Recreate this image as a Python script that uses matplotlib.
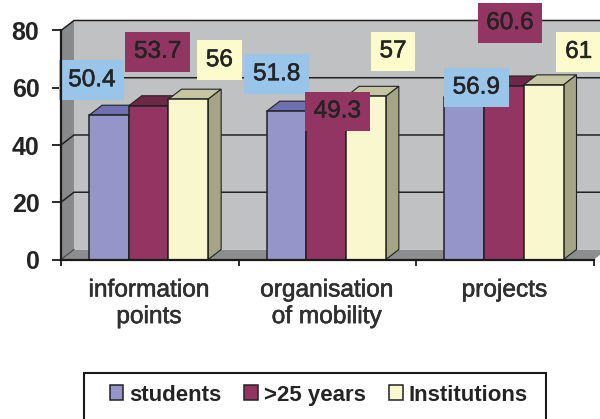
import matplotlib.pyplot as plt
import matplotlib.patheffects as pe
from matplotlib.patches import Polygon, Rectangle

categories = ['information\npoints', 'organisation\nof mobility', 'projects']
series_names = ['students', '>25 years', 'Institutions']
students = [50.4, 51.8, 56.9]
over_25 = [53.7, 49.3, 60.6]
institutions = [56, 57, 61]
y_ticks = [0, 20, 40, 60, 80]

front_colors = ['#9595CA', '#933562', '#F9F7CD']
top_colors = ['#6F6FB2', '#6E2748', '#C5C5A2']
side_colors = ['#6F6F98', '#6E2748', '#A5A586']
label_colors = ['#9AC5EA', '#933562', '#FCFBCC']

# labels were dragged by hand in the original, offsets in pixels from the bar top
label_offsets = [[(-17, 35), (-10, 37), (12, 9)],
                 [(9, 54), (11, 7), (6, 63)],
                 [(31, 39), (27, 45), (35, 33)]]

plt.rcParams['font.family'] = ['Liberation Sans', 'DejaVu Sans']
TEXT = '#242424'
DEPTH_X = 0.073
DEPTH_Y = 3.5
BAR_W = 0.2235
GROUP_START = 0.158
heavier = [pe.withStroke(linewidth=0.4, foreground=TEXT)]

fig = plt.figure(figsize=(6, 4.19), dpi=100)
ax = fig.add_axes([61 / 600, 1 - 259.5 / 419, 533 / 600, 229 / 419])
ax.set_xlim(0, 3)
ax.set_ylim(0, 80)
for s in ['top', 'right']:
    ax.spines[s].set_visible(False)
for s in ['left', 'bottom']:
    ax.spines[s].set_linewidth(1.6)
    ax.spines[s].set_color('#1a1a1a')
    ax.spines[s].set_zorder(8)
ax.patch.set_visible(False)

# walls and floor
ax.add_patch(Polygon([(DEPTH_X, DEPTH_Y), (3 + DEPTH_X, DEPTH_Y), (3 + DEPTH_X, 80 + DEPTH_Y), (DEPTH_X, 80 + DEPTH_Y)],
                     fc='#C0C1C3', ec='none', clip_on=False, zorder=1))
ax.add_patch(Polygon([(0, 0), (DEPTH_X, DEPTH_Y), (DEPTH_X, 80 + DEPTH_Y), (0, 80)],
                     fc='#88898B', ec='none', clip_on=False, zorder=1))
ax.add_patch(Polygon([(0, 0), (3, 0), (3 + DEPTH_X, DEPTH_Y), (DEPTH_X, DEPTH_Y)],
                     fc='#8C8D8F', ec='none', clip_on=False, zorder=1))

for y in y_ticks[1:]:
    ax.plot([0, DEPTH_X, 3 + DEPTH_X], [y, y + DEPTH_Y, y + DEPTH_Y], color='#222222', lw=1.1,
            clip_on=False, zorder=2)
ax.plot([0, DEPTH_X], [0, DEPTH_Y], color='#444444', lw=0.8, clip_on=False, zorder=2)

# bars, left to right so the later ones cover the sides
values = [students, over_25, institutions]
z = 3
for c in range(len(categories)):
    for i, vals in enumerate(values):
        left = c + GROUP_START + i * BAR_W
        v = vals[c]
        ax.add_patch(Polygon([(left, v), (left + BAR_W, v), (left + BAR_W + DEPTH_X, v + DEPTH_Y),
                              (left + DEPTH_X, v + DEPTH_Y)], fc=top_colors[i], ec='#222222', lw=0.8,
                             clip_on=False, zorder=z))
        ax.add_patch(Polygon([(left + BAR_W, 0), (left + BAR_W + DEPTH_X, DEPTH_Y),
                              (left + BAR_W + DEPTH_X, v + DEPTH_Y), (left + BAR_W, v)], fc=side_colors[i],
                             ec='#222222', lw=0.8, clip_on=False, zorder=z))
        ax.bar(left, v, BAR_W, align='edge', color=front_colors[i], edgecolor='#222222', linewidth=1.1,
               label=series_names[i] if c == 0 else None, zorder=z + 0.5)
        z += 0.01

# data labels
for c in range(len(categories)):
    for i, vals in enumerate(values):
        left = c + GROUP_START + i * BAR_W
        ax.annotate(f'{vals[c]:g}', xy=(left + BAR_W / 2, vals[c]), xytext=label_offsets[i][c],
                    textcoords='offset pixels', ha='center', va='center', fontsize=17.5, color=TEXT,
                    annotation_clip=False, zorder=7, path_effects=heavier,
                    bbox=dict(boxstyle='square,pad=0.36', fc=label_colors[i], ec='none'))

ax.set_yticks(y_ticks)
ax.set_xticks([0, 1, 2, 3])
ax.set_xticklabels([])
ax.tick_params(axis='y', length=6.5, width=1.3, pad=9, labelsize=18, color='#1a1a1a', labelcolor=TEXT)
ax.tick_params(axis='x', length=4.5, width=1.3, color='#1a1a1a')
for label in ax.get_yticklabels():
    label.set_fontweight('bold')
for c, name in enumerate(categories):
    ax.annotate(name, xy=(c + 0.5, 0), xytext=(-1, -20), textcoords='offset pixels', ha='center', va='top',
                fontsize=17.6, color='#303030', linespacing=1.27, annotation_clip=False, path_effects=heavier)

# legend box runs off the bottom of the picture, so it is drawn apart from the entries
fig.add_artist(Rectangle((84 / 600, -0.01), 462 / 600, 1 - 372.5 / 419 + 0.01, transform=fig.transFigure,
                         fc='white', ec='#1a1a1a', lw=1.5, zorder=-1))
leg = ax.legend(loc='center', bbox_to_anchor=(318.5 / 600, 1 - 395 / 419), bbox_transform=fig.transFigure,
                ncols=3, frameon=False, borderaxespad=0, borderpad=0, handlelength=0.62, handleheight=0.62,
                handletextpad=0.25, columnspacing=1.05, prop={'size': 16, 'weight': 'bold'})
for t in leg.get_texts():
    t.set_color(TEXT)

fig.savefig('out.png', dpi=100)
